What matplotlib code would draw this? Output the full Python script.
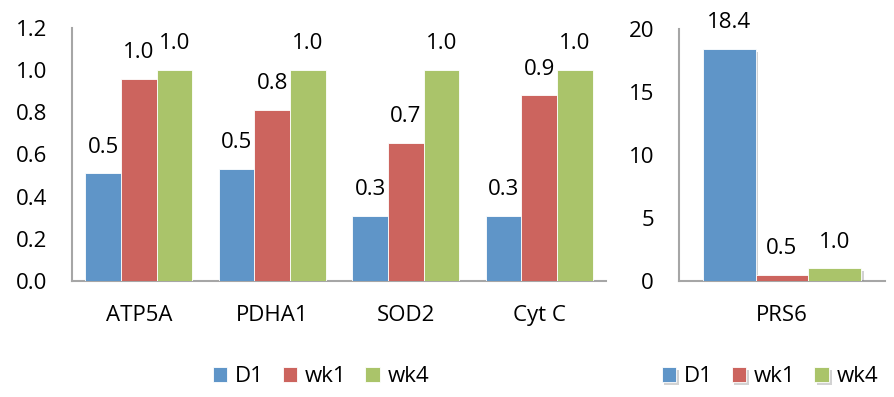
import matplotlib
matplotlib.use("Agg")
import matplotlib.pyplot as plt
import matplotlib.patheffects as pe
import numpy as np

plt.rcParams['font.family'] = ['Open Sans', 'DejaVu Sans']

# Relative expression of mitochondrial proteins
genes = ["ATP5A", "PDHA1", "SOD2", "Cyt C"]
d1 = [0.51, 0.53, 0.31, 0.31]
wk1 = [0.96, 0.81, 0.655, 0.88]
wk4 = [1.0, 1.0, 1.0, 1.0]

# PRS6 on its own scale
prs_gene = ["PRS6"]
prs_d1 = [18.4]
prs_wk1 = [0.5]
prs_wk4 = [1.0]

series_names = ["D1", "wk1", "wk4"]
colors = ["#5F95C8", "#CC645E", "#AAC46A"]
left_ticks = [0.0, 0.2, 0.4, 0.6, 0.8, 1.0, 1.2]
right_ticks = [0, 5, 10, 15, 20]

W, H = 895, 397
fig = plt.figure(figsize=(W / 100, H / 100), dpi=100)

FS = 16
AXIS_GRAY = "#A6A6A6"


def style_axes(ax):
    for s in ("top", "right"):
        ax.spines[s].set_visible(False)
    for s in ("left", "bottom"):
        ax.spines[s].set_color(AXIS_GRAY)
        ax.spines[s].set_linewidth(1.5)
    ax.tick_params(axis="both", length=0, labelsize=FS, colors="black")
    ax.tick_params(axis="y", pad=18)
    ax.tick_params(axis="x", pad=17)


def draw_group(ax, cats, values, width, shadow=False):
    x = np.arange(len(cats))
    handles = []
    for i, (vals, col, name) in enumerate(zip(values, colors, series_names)):
        bars = ax.bar(x + (i - 1) * width, vals, width, color=col,
                      edgecolor="white", linewidth=0.6, label=name, zorder=3)
        if shadow:
            for b in bars:
                b.set_path_effects([
                    pe.SimplePatchShadow(offset=(2, -2), shadow_rgbFace="#808080", alpha=0.35),
                    pe.Normal()])
        for b, v in zip(bars, vals):
            ax.annotate(f"{v:.1f}", (b.get_x() + b.get_width() / 2, v),
                        xytext=(0, 19), textcoords="offset points",
                        ha="center", va="center", fontsize=FS)
        handles.append(bars)
    ax.set_xticks(x)
    ax.set_xticklabels(cats)
    return handles


# Left panel
axL = fig.add_axes([72 / W, (H - 281) / H, 534 / W, 253 / H])
hL = draw_group(axL, genes, [d1, wk1, wk4], 0.267)
axL.set_xlim(-0.5, len(genes) - 0.5)
axL.set_ylim(0, 1.2)
axL.set_yticks(left_ticks)
axL.set_yticklabels([f"{t:.1f}" for t in left_ticks])
style_axes(axL)

# Right panel
axR = fig.add_axes([679 / W, (H - 281) / H, 206 / W, 252 / H])
hR = draw_group(axR, prs_gene, [prs_d1, prs_wk1, prs_wk4], 0.257, shadow=True)
axR.set_xlim(-0.5, 0.5)
axR.set_ylim(0, 20)
axR.set_yticks(right_ticks)
axR.set_yticklabels([str(t) for t in right_ticks])
style_axes(axR)

leg_kw = dict(loc="center", ncol=3, frameon=False, fontsize=FS,
              handlelength=0.65, handleheight=0.65, handletextpad=0.35,
              columnspacing=0.85, borderaxespad=0, borderpad=0)
fig.legend(hL, series_names, bbox_to_anchor=(321 / W, 20 / H), **leg_kw)
fig.legend(hR, series_names, bbox_to_anchor=(770 / W, 20 / H), **leg_kw)

fig.savefig("out.png", dpi=100)
